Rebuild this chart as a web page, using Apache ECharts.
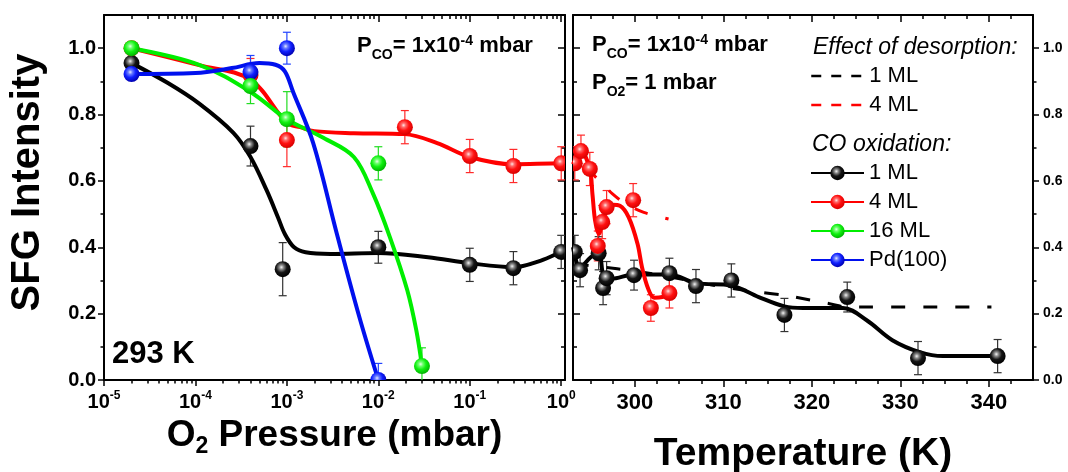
<!DOCTYPE html>
<html><head><meta charset="utf-8">
<script src="https://cdn.jsdelivr.net/npm/echarts@6/dist/echarts.min.js"></script>
<style>html,body{margin:0;padding:0;background:#fff}#c{width:1068px;height:472px}</style>
</head><body><div id="c"></div>
<script>
// ---------------- DATA ----------------
// tick values
const pMajorTicks = [1e-5, 1e-4, 1e-3, 1e-2, 1e-1, 1];
const tMajorTicks = [300, 310, 320, 330, 340];
const tMinorTicks = [295, 297.5, 302.5, 305, 307.5, 312.5, 315, 317.5, 322.5, 325, 327.5, 332.5, 335, 337.5, 342.5];
const yMajorTicks = [0, 0.2, 0.4, 0.6, 0.8, 1.0];
const yMinorTicks = [0.1, 0.3, 0.5, 0.7, 0.9];

// Left panel: O2 pressure (mbar) vs SFG intensity, measured points
const p1ML = [2e-5, 4e-4, 9e-4, 1e-2, 0.1, 0.3, 1];
const v1ML = [0.955, 0.705, 0.334, 0.40, 0.347, 0.337, 0.386];
const e1ML = [0.015, 0.06, 0.08, 0.048, 0.05, 0.05, 0.05];
const p4ML = [2e-5, 4e-4, 1e-3, 0.0195, 0.1, 0.3, 1];
const v4ML = [1.0, 0.919, 0.723, 0.762, 0.675, 0.645, 0.653];
const e4ML = [0.02, 0.05, 0.08, 0.05, 0.05, 0.05, 0.05];
const p16ML = [2e-5, 4e-4, 1e-3, 1e-2, 0.03];
const v16ML = [1.0, 0.886, 0.786, 0.653, 0.042];
const e16ML = [0.01, 0.053, 0.083, 0.05, 0.055];
const pPd = [2e-5, 4e-4, 1e-3, 1e-2];
const vPd = [0.922, 0.928, 1.0, 0.0];
const ePd = [0.01, 0.05, 0.048, 0.05];

// Left panel: fitted curves
const fit1P = [2e-5, 5e-5, 1.1e-4, 2.6e-4, 4e-4, 6e-4, 8e-4, 9.5e-4, 1.2e-3, 1.6e-3, 3e-3, 1e-2, 3.5e-2, 0.1, 0.3, 0.6, 1.0, 1.1];
const fit1V = [0.955, 0.895, 0.833, 0.745, 0.672, 0.572, 0.49, 0.44, 0.40, 0.385, 0.38, 0.383, 0.37, 0.352, 0.34, 0.36, 0.386, 0.39];
const fit4P = [2e-5, 1.1e-4, 4e-4, 1e-3, 1.4e-3, 2e-3, 5.4e-3, 0.0195, 0.044, 0.1, 0.3, 1, 1.1];
const fit4V = [1.0, 0.949, 0.905, 0.775, 0.762, 0.75, 0.744, 0.741, 0.714, 0.672, 0.65, 0.653, 0.653];
const fit16P = [2e-5, 1.1e-4, 4e-4, 1e-3, 1.5e-3, 2.5e-3, 5.4e-3, 8.7e-3, 0.0134, 0.0207, 0.026, 0.03];
const fit16V = [1.0, 0.95, 0.868, 0.785, 0.76, 0.73, 0.672, 0.563, 0.43, 0.271, 0.15, 0.042];
const fitPdP = [2e-5, 1e-4, 2.5e-4, 5e-4, 7.5e-4, 9.5e-4, 1.17e-3, 1.94e-3, 3.5e-3, 6.2e-3, 1e-2];
const fitPdV = [0.922, 0.925, 0.94, 0.955, 0.95, 0.93, 0.868, 0.714, 0.443, 0.19, 0.0];

// Right panel: temperature (K) vs SFG intensity, measured points
const t1ML = [293.2, 293.8, 295.9, 296.4, 296.8, 299.9, 303.9, 306.9, 310.9, 316.9, 324, 332, 341];
const w1ML = [0.386, 0.331, 0.382, 0.277, 0.307, 0.316, 0.322, 0.283, 0.30, 0.196, 0.25, 0.066, 0.072];
const f1ML = [0.05, 0.05, 0.05, 0.05, 0.05, 0.045, 0.045, 0.05, 0.05, 0.05, 0.045, 0.05, 0.05];
const t4ML = [293.2, 293.9, 294.9, 295.8, 296.3, 296.8, 299.8, 301.8, 303.9];
const w4ML = [0.653, 0.69, 0.636, 0.404, 0.476, 0.521, 0.542, 0.217, 0.262];
const f4ML = [0.05, 0.048, 0.05, 0.045, 0.05, 0.05, 0.05, 0.04, 0.045];

// Right panel: fitted curves
const fitT1 = [293.0, 293.8, 295.0, 295.9, 296.5, 297.3, 299.9, 303.9, 306.9, 310.9, 314, 316.9, 319, 323.5, 326.2, 329.1, 332.2, 334.8, 341];
const fitW1 = [0.40, 0.34, 0.37, 0.385, 0.31, 0.305, 0.318, 0.318, 0.292, 0.285, 0.25, 0.222, 0.217, 0.217, 0.18, 0.12, 0.084, 0.072, 0.072];
const fitT4 = [293.0, 293.9, 294.9, 295.2, 295.5, 295.9, 296.6, 297.5, 298.3, 299.3, 300.3, 300.8, 301.5, 302.2, 303.1, 303.9];
const fitW4 = [0.65, 0.69, 0.635, 0.56, 0.48, 0.44, 0.50, 0.528, 0.525, 0.49, 0.41, 0.34, 0.275, 0.248, 0.25, 0.262];

// Right panel: effect of desorption (dashed)
const desT1 = [293.2, 298, 302, 306, 310, 314, 317, 320, 322, 324, 340.3];
const desW1 = [0.35, 0.335, 0.32, 0.30, 0.28, 0.265, 0.255, 0.24, 0.23, 0.22, 0.22];
const desT4 = [294.5, 296, 297.5, 299, 301, 303.8];
const desW4 = [0.64, 0.60, 0.56, 0.53, 0.505, 0.485];

const legendNames = {des1: '1 ML', des4: '4 ML', ox1: '1 ML', ox4: '4 ML', ox16: '16 ML', oxPd: 'Pd(100)'};

// ---------------- CHART ----------------
const F = "'Liberation Sans', Arial, sans-serif";
const lg = Math.log10;
const pMinorTicks = [];
for (let n = -5; n <= 0; n++) for (let k = 2; k <= 9; k++) { const v = k * Math.pow(10, n); if (v <= 1.1) pMinorTicks.push(lg(v)); }
const pxMin = -5, pxMax = lg(1.1);

function stops(hi, mid, base, dark) {
  return [{offset: 0, color: hi}, {offset: 0.22, color: mid}, {offset: 0.55, color: base}, {offset: 1, color: dark}];
}
function ballGrad(s) { return new echarts.graphic.RadialGradient(0.42, 0.38, 0.62, s); }
const C = {
  black: {line: '#000000', err: '#333333', s: stops('#f4f4f4', '#8a8a8a', '#151515', '#000000')},
  red: {line: '#ff0000', err: '#ff2a2a', s: stops('#ffe4e4', '#ff6a6a', '#ff1010', '#d80000')},
  green: {line: '#00ee00', err: '#22dd22', s: stops('#e6ffe6', '#70ff70', '#10f010', '#00b400')},
  blue: {line: '#0010ee', err: '#2244ff', s: stops('#e4e8ff', '#6a7cff', '#1020ff', '#0000b0')}
};

function zip(xs, ys, tx) { return xs.map((x, i) => [tx ? tx(x) : x, ys[i]]); }
function zip3(xs, ys, es, tx) { return xs.map((x, i) => [tx ? tx(x) : x, ys[i], es[i]]); }

function errRender(params, api) {
  const x = api.value(0), y = api.value(1), e = api.value(2);
  const a = api.coord([x, y + e]), b = api.coord([x, y - e]);
  const hw = 4;
  const st = {stroke: api.visual('color'), lineWidth: 1.2, fill: null};
  return {type: 'group', children: [
    {type: 'line', shape: {x1: a[0], y1: a[1], x2: b[0], y2: b[1]}, style: st},
    {type: 'line', shape: {x1: a[0] - hw, y1: a[1], x2: a[0] + hw, y2: a[1]}, style: st},
    {type: 'line', shape: {x1: b[0] - hw, y1: b[1], x2: b[0] + hw, y2: b[1]}, style: st}
  ]};
}
function errSeries(data, col, xi, yi) {
  return {type: 'custom', xAxisIndex: xi, yAxisIndex: yi, renderItem: errRender, data: data,
    itemStyle: {color: col}, encode: {x: 0, y: 1}, clip: true, z: 2, silent: true};
}
function fitSeries(name, data, c, xi, yi, z) {
  return {type: 'line', name: name, xAxisIndex: xi, yAxisIndex: yi, data: data, smooth: 0.35,
    showSymbol: false, symbol: 'circle', itemStyle: {color: ballGrad(c.s), borderWidth: 0},
    lineStyle: {color: c.line, width: 4}, z: z, silent: true, clip: true};
}
// balls drawn through the axes, clipped to the plot frame
function dotSeries(data, c, xi, yi, z) {
  return {type: 'custom', xAxisIndex: xi, yAxisIndex: yi, data: data, encode: {x: 0, y: 1}, clip: true, z: z, silent: true,
    renderItem: function (params, api) {
      const p = api.coord([api.value(0), api.value(1)]);
      return {type: 'circle', shape: {cx: p[0], cy: p[1], r: 8}, style: {fill: ballGrad(c.s), stroke: null}};
    }};
}
function dashSeries(name, data, col, xi, yi) {
  return {type: 'line', name: name, xAxisIndex: xi, yAxisIndex: yi, data: data, smooth: 0.3,
    showSymbol: false, symbol: 'circle', itemStyle: {color: col},
    lineStyle: {color: col, width: 3, type: [14, 18]}, z: 3, silent: true};
}

const axisLineBase = {show: true, onZero: false, lineStyle: {color: '#000', width: 2}};
const noLine = {show: false, onZero: false};
function ax(o) {
  return Object.assign({type: 'value', splitLine: {show: false}, axisLabel: {show: false}, axisPointer: {show: false}}, o);
}
function tick(vals, len, inside) { return {show: true, customValues: vals, length: len, inside: inside, lineStyle: {color: '#000', width: 1.5}}; }

const logLabel = v => '{b|10}{s|' + Math.round(v) + '}';

const xAxes = [
  // left grid
  ax({gridIndex: 0, position: 'bottom', min: pxMin, max: pxMax, axisLine: axisLineBase, axisTick: tick(pMajorTicks.map(lg), 6, false),
    axisLabel: {show: true, customValues: pMajorTicks.map(lg), formatter: logLabel, margin: 10,
      rich: {b: {fontFamily: F, fontWeight: 'bold', fontSize: 20, color: '#000'}, s: {fontFamily: F, fontWeight: 'bold', fontSize: 12, color: '#000', padding: [0, 0, 12, 0]}}},
    name: '{a|O}{s|2}{a| Pressure (mbar)}', nameLocation: 'middle', nameGap: 32,
    nameTextStyle: {rich: {a: {fontFamily: F, fontWeight: 'bold', fontSize: 37, color: '#000'}, s: {fontFamily: F, fontWeight: 'bold', fontSize: 23, color: '#000', padding: [22, 0, 0, 0]}}}}),
  ax({gridIndex: 0, position: 'bottom', min: pxMin, max: pxMax, axisLine: noLine, axisTick: tick(pMinorTicks, 3.5, false)}),
  ax({gridIndex: 0, position: 'top', min: pxMin, max: pxMax, axisLine: axisLineBase, axisTick: tick(pMajorTicks.map(lg), 7, true)}),
  ax({gridIndex: 0, position: 'top', min: pxMin, max: pxMax, axisLine: noLine, axisTick: tick(pMinorTicks, 4, true)}),
  // right grid
  ax({gridIndex: 1, position: 'bottom', min: 293, max: 345, axisLine: axisLineBase, axisTick: tick(tMajorTicks, 7, false),
    axisLabel: {show: true, customValues: tMajorTicks, margin: 12, fontFamily: F, fontWeight: 'bold', fontSize: 22, color: '#000'},
    name: 'Temperature (K)', nameLocation: 'middle', nameGap: 55,
    nameTextStyle: {fontFamily: F, fontWeight: 'bold', fontSize: 39, color: '#000'}}),
  ax({gridIndex: 1, position: 'bottom', min: 293, max: 345, axisLine: noLine, axisTick: tick(tMinorTicks, 4, false)}),
  ax({gridIndex: 1, position: 'top', min: 293, max: 345, axisLine: axisLineBase, axisTick: tick(tMajorTicks, 7, true)}),
  ax({gridIndex: 1, position: 'top', min: 293, max: 345, axisLine: noLine, axisTick: tick(tMinorTicks, 4, true)})
];
const yAxes = [
  // left grid
  ax({gridIndex: 0, position: 'left', min: 0, max: 1.1, axisLine: axisLineBase, axisTick: tick(yMajorTicks, 6, false),
    axisLabel: {show: true, customValues: yMajorTicks, margin: 8, formatter: v => v.toFixed(1), fontFamily: F, fontWeight: 'bold', fontSize: 20, color: '#000'},
    name: 'SFG Intensity', nameLocation: 'middle', nameGap: 56, nameRotate: 90,
    nameTextStyle: {fontFamily: F, fontWeight: 'bold', fontSize: 40, color: '#000', padding: [0, 0, 0, 30]}}),
  ax({gridIndex: 0, position: 'left', min: 0, max: 1.1, axisLine: noLine, axisTick: tick(yMinorTicks, 3.5, false)}),
  ax({gridIndex: 0, position: 'right', min: 0, max: 1.1, axisLine: axisLineBase, axisTick: tick(yMajorTicks, 7, true)}),
  ax({gridIndex: 0, position: 'right', min: 0, max: 1.1, axisLine: noLine, axisTick: tick(yMinorTicks, 4, true)}),
  // right grid
  ax({gridIndex: 1, position: 'left', min: 0, max: 1.1, axisLine: axisLineBase, axisTick: tick(yMajorTicks, 7, true)}),
  ax({gridIndex: 1, position: 'left', min: 0, max: 1.1, axisLine: noLine, axisTick: tick(yMinorTicks, 4, true)}),
  ax({gridIndex: 1, position: 'right', min: 0, max: 1.1, axisLine: axisLineBase, axisTick: tick(yMajorTicks, 6, false),
    axisLabel: {show: true, customValues: yMajorTicks, margin: 10, formatter: v => v.toFixed(1), fontFamily: F, fontWeight: 'bold', fontSize: 14, color: '#000'}}),
  ax({gridIndex: 1, position: 'right', min: 0, max: 1.1, axisLine: noLine, axisTick: tick(yMinorTicks, 3.5, false)})
];

const LX = x => lg(x);
const series = [
  // left panel
  errSeries(zip3(p1ML, v1ML, e1ML, LX), C.black.err, 0, 0),
  errSeries(zip3(p4ML, v4ML, e4ML, LX), C.red.err, 0, 0),
  errSeries(zip3(p16ML, v16ML, e16ML, LX), C.green.err, 0, 0),
  errSeries(zip3(pPd, vPd, ePd, LX), C.blue.err, 0, 0),
  fitSeries('ox1', zip(fit1P, fit1V, LX), C.black, 0, 0, 4),
  fitSeries('ox4', zip(fit4P, fit4V, LX), C.red, 0, 0, 5),
  fitSeries('ox16', zip(fit16P, fit16V, LX), C.green, 0, 0, 6),
  fitSeries('oxPd', zip(fitPdP, fitPdV, LX), C.blue, 0, 0, 7),
  dotSeries(zip(p1ML, v1ML, LX), C.black, 0, 0, 10),
  dotSeries(zip(p4ML, v4ML, LX), C.red, 0, 0, 11),
  dotSeries(zip(pPd, vPd, LX), C.blue, 0, 0, 12),
  dotSeries(zip(p16ML, v16ML, LX), C.green, 0, 0, 13),
  // right panel
  dashSeries('des1', zip(desT1, desW1), '#000000', 4, 6),
  dashSeries('des4', zip(desT4, desW4), '#ff0000', 4, 6),
  errSeries(zip3(t1ML, w1ML, f1ML), C.black.err, 4, 6),
  errSeries(zip3(t4ML, w4ML, f4ML), C.red.err, 4, 6),
  fitSeries('ox1r', zip(fitT1, fitW1), C.black, 4, 6, 4),
  fitSeries('ox4r', zip(fitT4, fitW4), C.red, 4, 6, 5),
  dotSeries(zip(t1ML, w1ML), C.black, 4, 6, 10),
  dotSeries(zip(t4ML, w4ML), C.red, 4, 6, 11)
];

const legendText = {fontFamily: F, fontSize: 22, color: '#000'};
const hidden = {opacity: 0};
const rp = {fontFamily: F, fontWeight: 'bold', fontSize: 22, fill: '#000'};
const rs = {fontFamily: F, fontWeight: 'bold', fontSize: 14, fill: '#000', padding: [18, 0, 0, 0]};
const ru = {fontFamily: F, fontWeight: 'bold', fontSize: 14, fill: '#000', padding: [0, 0, 10, 0]};
const chart = echarts.init(document.getElementById('c'), null, {renderer: 'canvas'});
chart.setOption({
  animation: false,
  backgroundColor: '#ffffff',
  grid: [
    {left: 104, top: 15, width: 461, height: 365, outerBoundsMode: 'none', containLabel: false},
    {left: 573, top: 15, width: 460, height: 365, outerBoundsMode: 'none', containLabel: false}
  ],
  xAxis: xAxes,
  yAxis: yAxes,
  legend: [
    {orient: 'vertical', left: 810, top: 65, padding: 0, itemGap: 7, itemWidth: 53, itemHeight: 16, selectedMode: false,
      textStyle: legendText, formatter: n => legendNames[n],
      data: [{name: 'des1', itemStyle: hidden, lineStyle: {type: [10, 10], width: 2.5}},
             {name: 'des4', itemStyle: hidden, lineStyle: {type: [10, 10], width: 2.5}}]},
    {orient: 'vertical', left: 810, top: 162, padding: 0, itemGap: 7, itemWidth: 53, itemHeight: 18, selectedMode: false,
      textStyle: legendText, formatter: n => legendNames[n],
      data: ['ox1', 'ox4', 'ox16', 'oxPd']}
  ],
  graphic: [
    {type: 'text', left: 357, top: 34, silent: true, style: {text: '{p|P}{s|CO}{p|= 1x10}{u|-4}{p| mbar}', rich: {p: rp, s: rs, u: ru}}},
    {type: 'text', left: 592, top: 33, silent: true, style: {text: '{p|P}{s|CO}{p|= 1x10}{u|-4}{p| mbar}', rich: {p: rp, s: rs, u: ru}}},
    {type: 'text', left: 592, top: 72, silent: true, style: {text: '{p|P}{s|O2}{p|= 1 mbar}', rich: {p: rp, s: rs}}},
    {type: 'text', left: 112, top: 339, silent: true, style: {text: '293 K', fontFamily: F, fontWeight: 'bold', fontSize: 31, fill: '#000'}},
    {type: 'text', left: 813, top: 36, silent: true, style: {text: 'Effect of desorption:', fontFamily: F, fontStyle: 'italic', fontSize: 23, fill: '#000'}},
    {type: 'text', left: 812, top: 133, silent: true, style: {text: 'CO oxidation:', fontFamily: F, fontStyle: 'italic', fontSize: 23, fill: '#000'}}
  ],
  series: series
});
</script>
</body></html>
